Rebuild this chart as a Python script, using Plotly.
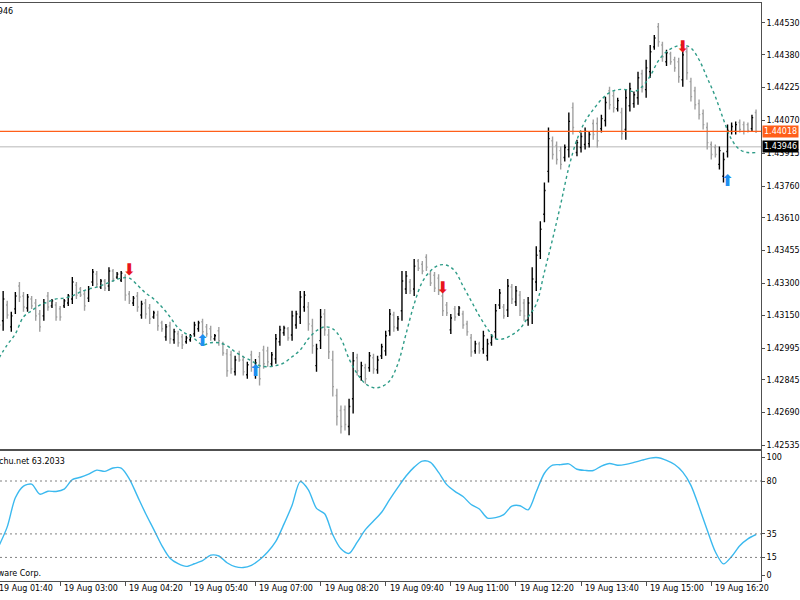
import plotly.graph_objects as go
from plotly.subplots import make_subplots

# ---------------- data ----------------
bar_index = list(range(1, 188))
opens = [1.43218,1.43124,1.43198,1.43095,1.43180,1.43288,1.43241,1.43184,1.43227,1.43208,
         1.43156,1.43147,1.43241,1.43194,1.43198,1.43180,1.43194,1.43208,1.43227,1.43292,
         1.43274,1.43250,1.43231,1.43307,1.43344,1.43283,1.43312,1.43288,1.43359,1.43330,
         1.43316,1.43330,1.43250,1.43208,1.43241,1.43151,1.43208,1.43184,1.43142,1.43151,
         1.43114,1.43048,1.43100,1.43034,1.43062,1.43048,1.43025,1.43034,1.43062,1.43086,
         1.43119,1.43095,1.43086,1.43039,1.43077,1.43015,1.42968,1.42963,1.42883,1.42968,
         1.42939,1.42869,1.42963,1.42869,1.42954,1.42986,1.42982,1.42921,1.42944,1.43025,
         1.43067,1.43086,1.43057,1.43104,1.43142,1.43189,1.43189,1.43100,1.42912,1.43030,
         1.43156,1.43057,1.42939,1.42771,1.42700,1.42704,1.42625,1.42756,1.42949,1.42860,
         1.42902,1.42902,1.42949,1.42892,1.42959,1.42982,1.43077,1.43151,1.43090,1.43171,
         1.43274,1.43307,1.43274,1.43406,1.43391,1.43424,1.43344,1.43339,1.43325,1.43241,
         1.43198,1.43081,1.43180,1.43156,1.43156,1.43109,1.43043,1.42982,1.43015,1.42991,
         1.42959,1.43020,1.43072,1.43198,1.43189,1.43175,1.43283,1.43213,1.43245,1.43208,
         1.43128,1.43166,1.43307,1.43453,1.43627,1.43829,1.43974,1.43951,1.43927,1.43895,
         1.43932,1.44130,1.43918,1.43942,1.43956,1.43960,1.44055,1.44055,1.44031,1.44069,
         1.44210,1.44186,1.44125,1.44107,1.44027,1.44139,1.44149,1.44177,1.44290,1.44215,
         1.44300,1.44417,1.44512,1.44426,1.44347,1.44384,1.44356,1.44347,1.44262,1.44394,
         1.44253,1.44210,1.44149,1.44102,1.44036,1.43956,1.43942,1.43862,1.43806,1.43923,
         1.44018,1.44018,1.44060,1.44050,1.44050,1.44031,1.44107]
highs = [1.43260,1.43265,1.43218,1.43166,1.43260,1.43307,1.43260,1.43250,1.43241,1.43227,
         1.43175,1.43227,1.43260,1.43227,1.43213,1.43194,1.43227,1.43250,1.43330,1.43307,
         1.43283,1.43265,1.43288,1.43368,1.43359,1.43321,1.43321,1.43377,1.43368,1.43354,
         1.43359,1.43344,1.43265,1.43241,1.43260,1.43218,1.43227,1.43203,1.43171,1.43171,
         1.43124,1.43109,1.43119,1.43086,1.43077,1.43062,1.43053,1.43062,1.43119,1.43124,
         1.43133,1.43109,1.43100,1.43062,1.43095,1.43025,1.42991,1.42982,1.42959,1.42982,
         1.42959,1.42930,1.42982,1.42944,1.42977,1.43006,1.43001,1.42977,1.43062,1.43100,
         1.43100,1.43095,1.43171,1.43171,1.43265,1.43265,1.43213,1.43133,1.43015,1.43180,
         1.43180,1.43086,1.42982,1.42803,1.42724,1.42724,1.42756,1.42977,1.42968,1.42930,
         1.42921,1.42977,1.42968,1.42959,1.43015,1.43077,1.43180,1.43166,1.43147,1.43359,
         1.43359,1.43321,1.43415,1.43415,1.43406,1.43438,1.43359,1.43354,1.43344,1.43260,
         1.43213,1.43156,1.43194,1.43194,1.43171,1.43124,1.43062,1.43030,1.43025,1.43077,
         1.43039,1.43062,1.43203,1.43274,1.43203,1.43321,1.43297,1.43288,1.43265,1.43227,
         1.43236,1.43377,1.43476,1.43594,1.43777,1.44036,1.43994,1.43970,1.43947,1.43956,
         1.44107,1.44154,1.43979,1.44013,1.44036,1.44018,1.44074,1.44083,1.44097,1.44182,
         1.44229,1.44206,1.44177,1.44130,1.44215,1.44248,1.44206,1.44300,1.44309,1.44356,
         1.44426,1.44473,1.44530,1.44441,1.44403,1.44394,1.44370,1.44365,1.44412,1.44417,
         1.44271,1.44229,1.44168,1.44121,1.44060,1.43970,1.43956,1.43947,1.43918,1.44050,
         1.44060,1.44065,1.44074,1.44065,1.44060,1.44097,1.44121]
lows = [1.43053,1.43077,1.43133,1.43072,1.43156,1.43213,1.43166,1.43166,1.43180,1.43124,
        1.43072,1.43124,1.43171,1.43184,1.43124,1.43124,1.43184,1.43194,1.43203,1.43227,
        1.43236,1.43171,1.43213,1.43288,1.43283,1.43274,1.43265,1.43265,1.43307,1.43321,
        1.43307,1.43218,1.43203,1.43194,1.43166,1.43133,1.43133,1.43109,1.43133,1.43077,
        1.43072,1.43030,1.43015,1.43015,1.43001,1.42991,1.43015,1.43025,1.43048,1.43072,
        1.43053,1.43048,1.43030,1.43030,1.43006,1.42959,1.42860,1.42874,1.42865,1.42930,
        1.42865,1.42850,1.42883,1.42850,1.42818,1.42897,1.42907,1.42907,1.42921,1.43006,
        1.43053,1.43030,1.43030,1.43086,1.43109,1.43166,1.43077,1.42968,1.42883,1.42991,
        1.43053,1.42944,1.42766,1.42630,1.42592,1.42606,1.42583,1.42686,1.42865,1.42841,
        1.42827,1.42883,1.42874,1.42874,1.42944,1.42959,1.43053,1.43072,1.43077,1.43124,
        1.43250,1.43250,1.43241,1.43359,1.43344,1.43359,1.43288,1.43260,1.43245,1.43147,
        1.43147,1.43062,1.43124,1.43147,1.43086,1.43053,1.42954,1.42968,1.42968,1.42968,
        1.42935,1.43006,1.43039,1.43180,1.43133,1.43142,1.43203,1.43194,1.43147,1.43124,
        1.43100,1.43109,1.43265,1.43415,1.43589,1.43777,1.43885,1.43862,1.43838,1.43876,
        1.43895,1.44003,1.43900,1.43918,1.43932,1.43942,1.43979,1.43942,1.44013,1.44041,
        1.44121,1.44107,1.44112,1.43979,1.43979,1.44112,1.44130,1.44144,1.44201,1.44177,
        1.44271,1.44403,1.44417,1.44347,1.44327,1.44332,1.44300,1.44248,1.44229,1.44262,
        1.44159,1.44121,1.44074,1.44027,1.43932,1.43885,1.43895,1.43838,1.43777,1.43895,
        1.44003,1.44003,1.44013,1.44003,1.44013,1.44018,1.44010]
closes = [1.43104,1.43227,1.43151,1.43147,1.43241,1.43236,1.43189,1.43236,1.43194,1.43147,
          1.43095,1.43208,1.43189,1.43218,1.43142,1.43142,1.43218,1.43241,1.43307,1.43245,
          1.43245,1.43194,1.43274,1.43354,1.43297,1.43312,1.43278,1.43359,1.43321,1.43344,
          1.43349,1.43245,1.43218,1.43231,1.43189,1.43203,1.43156,1.43133,1.43161,1.43100,
          1.43086,1.43095,1.43039,1.43072,1.43020,1.43010,1.43043,1.43053,1.43104,1.43114,
          1.43072,1.43062,1.43048,1.43053,1.43030,1.42972,1.42888,1.42897,1.42939,1.42939,
          1.42883,1.42916,1.42907,1.42925,1.42850,1.42921,1.42930,1.42963,1.43039,1.43081,
          1.43090,1.43043,1.43147,1.43156,1.43236,1.43245,1.43109,1.43006,1.42991,1.43142,
          1.43081,1.42977,1.42813,1.42672,1.42625,1.42634,1.42719,1.42935,1.42888,1.42912,
          1.42850,1.42959,1.42897,1.42939,1.43001,1.43053,1.43156,1.43095,1.43133,1.43312,
          1.43335,1.43265,1.43382,1.43372,1.43359,1.43377,1.43302,1.43278,1.43265,1.43171,
          1.43161,1.43137,1.43142,1.43184,1.43104,1.43072,1.42977,1.43015,1.42982,1.43053,
          1.43015,1.43048,1.43171,1.43255,1.43147,1.43288,1.43227,1.43265,1.43171,1.43147,
          1.43208,1.43321,1.43433,1.43556,1.43739,1.43984,1.43909,1.43885,1.43862,1.43942,
          1.44065,1.44036,1.43965,1.43994,1.44018,1.44003,1.44003,1.43974,1.44078,1.44154,
          1.44144,1.44130,1.44163,1.44008,1.44177,1.44219,1.44191,1.44271,1.44224,1.44318,
          1.44394,1.44459,1.44441,1.44370,1.44389,1.44347,1.44318,1.44276,1.44379,1.44295,
          1.44182,1.44144,1.44097,1.44050,1.43965,1.43909,1.43909,1.43927,1.43885,1.44022,
          1.44041,1.44050,1.44027,1.44018,1.44022,1.44083,1.44018]

ma_index = list(range(1, 188, 2))
ma_values = [1.42949,1.43010,1.43062,1.43142,1.43171,1.43198,1.43213,1.43227,1.43231,1.43241,
             1.43260,1.43274,1.43283,1.43297,1.43312,1.43325,1.43325,1.43292,1.43255,1.43227,
             1.43189,1.43142,1.43090,1.43062,1.43039,1.43010,1.43020,1.43020,1.43006,1.42977,
             1.42954,1.42935,1.42912,1.42907,1.42912,1.42925,1.42954,1.42986,1.43039,1.43077,
             1.43095,1.43086,1.43039,1.42944,1.42874,1.42827,1.42808,1.42813,1.42841,1.42921,
             1.43062,1.43203,1.43307,1.43359,1.43386,1.43386,1.43359,1.43288,1.43218,1.43147,
             1.43086,1.43039,1.43039,1.43057,1.43086,1.43142,1.43203,1.43354,1.43509,1.43674,
             1.43848,1.43979,1.44065,1.44121,1.44168,1.44201,1.44215,1.44215,1.44206,1.44229,
             1.44280,1.44351,1.44394,1.44417,1.44426,1.44412,1.44356,1.44271,1.44182,1.44074,
             1.43979,1.43932,1.43918,1.43918]

osc_index = list(range(1, 188, 2))
osc_values = [25.0,41.0,65.7,75.7,77.3,68.8,71.3,71.1,73.1,81.2,
              83.2,85.9,89.2,88.2,91.1,91.0,81.9,67.1,52.4,38.9,
              25.0,14.3,9.7,7.4,9.6,12.2,16.9,16.2,10.5,7.2,
              6.4,8.3,13.0,19.6,28.6,43.3,59.4,79.5,72.5,56.7,
              52.1,34.3,22.3,18.4,28.0,38.6,46.0,53.4,64.3,74.5,
              84.2,91.8,96.9,95.9,87.3,76.9,71.2,66.8,60.0,56.2,
              48.5,48.8,51.4,58.6,59.0,55.5,70.8,86.6,93.5,93.9,
              94.6,90.0,89.0,88.9,92.7,94.9,93.4,94.1,95.8,97.7,
              99.5,99.8,97.5,94.0,87.5,76.3,58.0,38.4,19.8,9.5,
              15.8,25.0,30.8,34.5]

sell_index = [33, 110, 169]
sell_price = [1.43359, 1.43274, 1.44412]
buy_index = [51, 64, 180]
buy_price = [1.43025, 1.42883, 1.43777]

bid_price = 1.44018
line_price = 1.43946

time_tick_index = [0, 16, 32, 48, 64, 80, 96, 112, 128, 144, 160, 176]
time_tick_labels = ["19 Aug 01:40", "19 Aug 03:00", "19 Aug 04:20", "19 Aug 05:40",
                    "19 Aug 07:00", "19 Aug 08:20", "19 Aug 09:40", "19 Aug 11:00",
                    "19 Aug 12:20", "19 Aug 13:40", "19 Aug 15:00", "19 Aug 16:20"]

price_ticks = [1.44530, 1.44380, 1.44225, 1.44070, 1.43915, 1.43760, 1.43610,
               1.43455, 1.43300, 1.43150, 1.42995, 1.42845, 1.42690, 1.42535]
osc_ticks = [0, 15, 35, 80, 100]
osc_levels = [80, 35, 15]

# ---------------- figure ----------------
FONT = "DejaVu Sans"
AXC = "#505050"
X0, X1 = 1.227, 188.22

fig = make_subplots(rows=2, cols=1, shared_xaxes=True, vertical_spacing=0.0)

fig.add_trace(go.Ohlc(x=bar_index, open=opens, high=highs, low=lows, close=closes,
                      increasing=dict(line=dict(color="#000000", width=1.4)),
                      decreasing=dict(line=dict(color="#a0a0a0", width=1.4)),
                      tickwidth=0.3, hoverinfo="skip"), row=1, col=1)

fig.add_trace(go.Scatter(x=ma_index, y=ma_values, mode="lines",
                         line=dict(color="#2f9c88", width=1.4, dash="3px,3px", shape="spline"),
                         hoverinfo="skip"), row=1, col=1)

fig.add_trace(go.Scatter(x=sell_index, y=sell_price, mode="text", text=["⬇"] * len(sell_index),
                         textfont=dict(family=FONT, size=16, color="#e8141c"),
                         hoverinfo="skip"), row=1, col=1)
fig.add_trace(go.Scatter(x=buy_index, y=buy_price, mode="text", text=["⬆"] * len(buy_index),
                         textfont=dict(family=FONT, size=16, color="#1e8ff0"),
                         hoverinfo="skip"), row=1, col=1)

fig.add_trace(go.Scatter(x=osc_index, y=osc_values, mode="lines",
                         line=dict(color="#3bb9ef", width=1.4, shape="spline", smoothing=0.8),
                         hoverinfo="skip"), row=2, col=1)

# horizontal lines
fig.add_shape(type="line", xref="x domain", yref="y", x0=0, x1=1, y0=line_price, y1=line_price,
              line=dict(color="#cfcfcf", width=1.5), layer="below")
fig.add_shape(type="line", xref="x domain", yref="y", x0=0, x1=1, y0=bid_price, y1=bid_price,
              line=dict(color="#ff5f1a", width=1.2))
for lv in osc_levels:
    fig.add_shape(type="line", xref="x2 domain", yref="y2", x0=0, x1=1, y0=lv, y1=lv,
                  line=dict(color="#808080", width=1, dash="2px,3px"))

# axes
fig.update_xaxes(range=[X0, X1], showgrid=False, zeroline=False, showline=True, mirror=True,
                 linecolor=AXC, linewidth=1, rangeslider=dict(visible=False))
fig.update_xaxes(showticklabels=False, ticks="", row=1, col=1)
fig.update_xaxes(tickmode="array", tickvals=time_tick_index, ticks="outside", ticklen=4,
                 tickcolor=AXC, showticklabels=False, row=2, col=1)

fig.update_yaxes(side="right", showgrid=False, zeroline=False, showline=True, mirror=False,
                 linecolor=AXC, linewidth=1, ticks="outside", ticklen=3, tickcolor=AXC,
                 tickfont=dict(family=FONT, size=8, color="#000000"))
fig.update_yaxes(range=[1.425209, 1.446241], tickmode="array", tickvals=price_ticks,
                 ticktext=[f"{v:.5f}" for v in price_ticks], row=1, col=1)
fig.update_yaxes(range=[-5.1, 105.1], tickmode="array", tickvals=osc_ticks,
                 ticktext=[str(v) for v in osc_ticks], row=2, col=1)

fig.update_layout(
    width=800, height=600,
    margin=dict(l=0, r=38, t=0, b=0),
    paper_bgcolor="white", plot_bgcolor="white",
    showlegend=False,
    font=dict(family=FONT, size=8, color="#000000"),
    yaxis=dict(domain=[0.25, 0.995]),
    yaxis2=dict(domain=[0.028333, 0.245]),
)

annotations = []
for t, lab in zip(time_tick_index, time_tick_labels):
    annotations.append(dict(xref="paper", yref="paper", x=(t - X0) / (X1 - X0), y=1 - 590 / 600,
                            xanchor="left", yanchor="middle", xshift=2, showarrow=False,
                            text=lab, font=dict(family=FONT, size=8, color="#000000")))
# price labels on the scale
annotations.append(dict(xref="paper", yref="y", x=1, y=bid_price, xanchor="left", yanchor="middle",
                        xshift=1, showarrow=False, text=f"{bid_price:.5f}", bgcolor="#ff5f1a",
                        borderpad=1, font=dict(family=FONT, size=8, color="white")))
annotations.append(dict(xref="paper", yref="y", x=1, y=line_price, xanchor="left", yanchor="middle",
                        xshift=1, showarrow=False, text=f"{line_price:.5f}", bgcolor="#000000",
                        borderpad=1, font=dict(family=FONT, size=8, color="white")))
# header texts (cut by window edge, as in the original screenshot)
annotations.append(dict(xref="paper", yref="paper", x=15 / 762, y=1 - 12 / 600, xanchor="right",
                        yanchor="middle", showarrow=False, text="1.43946",
                        font=dict(family=FONT, size=8, color="#000000")))
annotations.append(dict(xref="paper", yref="paper", x=0, y=1 - 463 / 600, xanchor="left",
                        xshift=-3, yanchor="middle", showarrow=False, text="chu.net 63.2033",
                        font=dict(family=FONT, size=8, color="#000000")))
annotations.append(dict(xref="paper", yref="paper", x=43 / 762, y=1 - 575 / 600, xanchor="right",
                        yanchor="middle", showarrow=False, text="MetaQuotes Software Corp.",
                        font=dict(family=FONT, size=8, color="#000000")))
fig.update_layout(annotations=annotations)

fig.write_html("out.html")
